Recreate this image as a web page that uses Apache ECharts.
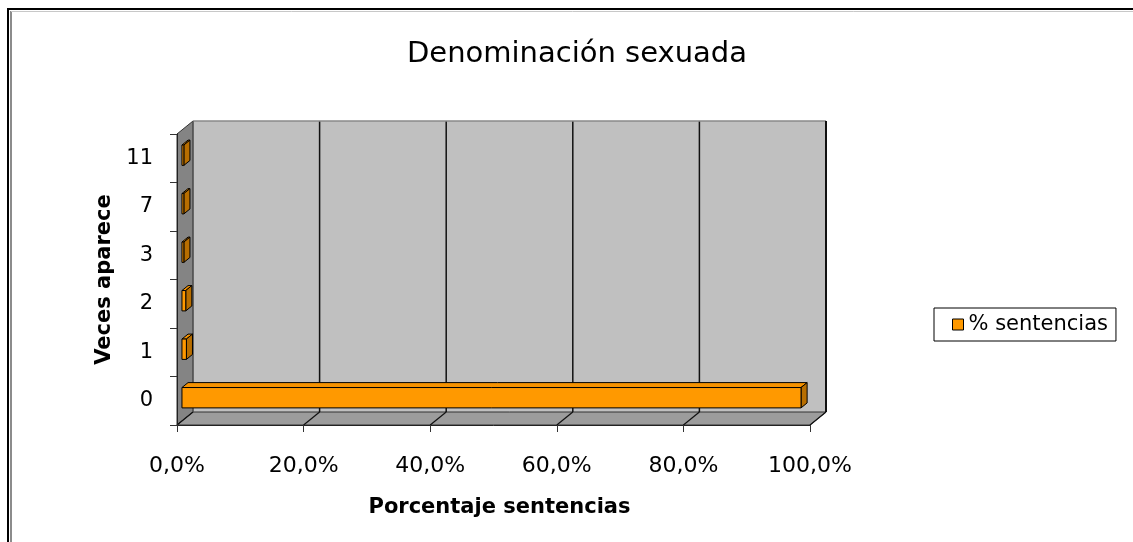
<!DOCTYPE html>
<html>
<head>
<meta charset="utf-8">
<script src="https://cdn.jsdelivr.net/npm/echarts@6/dist/echarts.min.js"></script>
<style>
html,body{margin:0;padding:0;background:#fff;}
#c{width:1133px;height:542px;}
</style>
</head>
<body>
<div id="c"></div>
<script>
// ---- data ----
const categories = ['0', '1', '2', '3', '7', '11'];
const percentValues = [97.8, 0.7, 0.6, 0.3, 0.3, 0.3];
const xTickValues = [0, 20, 40, 60, 80, 100];
const xTickLabels = ['0,0%', '20,0%', '40,0%', '60,0%', '80,0%', '100,0%'];
const seriesName = '% sentencias';
const titleText = 'Denominación sexuada';
const xAxisName = 'Porcentaje sentencias';
const yAxisName = 'Veces aparece';

// ---- 3D look constants (style) ----
const DX = 16, DY = -13;
const F1 = 0.31, F2 = 0.69;
const FONT = 'DejaVu Sans';

const chart = echarts.init(document.getElementById('c'), null, {renderer: 'canvas'});

function wallsRender(params, api) {
  const cs = params.coordSys;
  const L = cs.x, T = cs.y, R = cs.x + cs.width, B = cs.y + cs.height;
  const children = [];
  children.push({type: 'polygon', shape: {points: [[L + DX, T + DY], [R + DX, T + DY], [R + DX, B + DY], [L + DX, B + DY]]},
    style: {fill: '#c0c0c0', stroke: null}});
  children.push({type: 'polygon', shape: {points: [[L, T], [L + DX, T + DY], [L + DX, B + DY], [L, B]]},
    style: {fill: '#848484', stroke: '#333', lineWidth: 1}});
  children.push({type: 'polygon', shape: {points: [[L, B], [R, B], [R + DX, B + DY], [L + DX, B + DY]]},
    style: {fill: '#9c9c9c', stroke: '#333', lineWidth: 1}});
  xTickValues.forEach(function (v) {
    const x = api.coord([v, 0])[0];
    if (v > xTickValues[0] && v < xTickValues[xTickValues.length - 1]) {
      children.push({type: 'line', shape: {x1: x + DX, y1: T + DY, x2: x + DX, y2: B + DY},
        style: {stroke: '#111', lineWidth: 1.5}});
    }
    children.push({type: 'line', shape: {x1: x, y1: B, x2: x + DX, y2: B + DY},
      style: {stroke: '#111', lineWidth: 1.2}});
  });
  children.push({type: 'line', shape: {x1: L + DX, y1: T + DY, x2: R + DX, y2: T + DY}, style: {stroke: '#8a8a8a', lineWidth: 1.5}});
  children.push({type: 'line', shape: {x1: R + DX, y1: T + DY, x2: R + DX, y2: B + DY}, style: {stroke: '#111', lineWidth: 2}});
  children.push({type: 'line', shape: {x1: L + DX, y1: T + DY, x2: L + DX, y2: B + DY}, style: {stroke: '#555', lineWidth: 1}});
  return {type: 'group', children: children};
}

function barRender(params, api) {
  const v = api.value(0), c = api.value(1);
  const p0 = api.coord([0, c]);
  const p1 = api.coord([v, c]);
  const band = api.size([0, 1])[1];
  const h = band * 0.42;
  const ox1 = DX * F1, oy1 = DY * F1, ox2 = DX * F2, oy2 = DY * F2;
  const ddx = ox2 - ox1, ddy = oy2 - oy1;
  const xL = p0[0] + ox1, xR = p1[0] + ox1;
  const yT = p0[1] + oy1 - h / 2 + 1, yB = yT + h;
  const st = {stroke: '#000', lineWidth: 1};
  return {type: 'group', children: [
    {type: 'polygon', shape: {points: [[xL, yT], [xR, yT], [xR + ddx, yT + ddy], [xL + ddx, yT + ddy]]},
      style: Object.assign({fill: '#f59200'}, st)},
    {type: 'polygon', shape: {points: [[xR, yT], [xR + ddx, yT + ddy], [xR + ddx, yB + ddy], [xR, yB]]},
      style: Object.assign({fill: '#b86e00'}, st)},
    {type: 'rect', shape: {x: xL, y: yT, width: xR - xL, height: h},
      style: Object.assign({fill: '#ff9900'}, st)}
  ]};
}

const option = {
  animation: false,
  backgroundColor: '#fff',
  title: {
    text: titleText, left: 577, top: 40, padding: 0, textAlign: 'center',
    textStyle: {fontFamily: FONT, fontSize: 29, fontWeight: 'normal', color: '#000'}
  },
  legend: {
    data: [seriesName], orient: 'vertical', left: 934, top: 308,
    padding: [6, 8, 6, 18], borderColor: '#000', borderWidth: 1,
    icon: 'rect', itemWidth: 11, itemHeight: 11,
    itemStyle: {color: '#ff9900', borderColor: '#000', borderWidth: 1},
    textStyle: {fontFamily: FONT, fontSize: 21, color: '#000'}
  },
  grid: {left: 177, right: 323, top: 134, bottom: 117, containLabel: false},
  xAxis: {
    type: 'value', min: 0, max: 100, interval: 20,
    name: xAxisName, nameLocation: 'middle', nameGap: 72,
    nameTextStyle: {fontFamily: FONT, fontSize: 21, fontWeight: 'bold', color: '#000', padding: [0, 0, 0, 12]},
    axisLine: {show: true, lineStyle: {color: '#222', width: 1}},
    axisTick: {show: true, length: 7, lineStyle: {color: '#333'}},
    splitLine: {show: false},
    axisLabel: {
      margin: 30, fontFamily: FONT, fontSize: 22, color: '#000',
      formatter: function (v) { const i = xTickValues.indexOf(v); return i >= 0 ? xTickLabels[i] : ''; }
    }
  },
  yAxis: {
    type: 'category', data: categories,
    name: yAxisName, nameLocation: 'middle', nameGap: 60, nameRotate: 90,
    nameTextStyle: {fontFamily: FONT, fontSize: 21, fontWeight: 'bold', color: '#000'},
    axisLine: {show: true, lineStyle: {color: '#222', width: 1}},
    axisTick: {show: true, length: 7, lineStyle: {color: '#333'}},
    splitLine: {show: false},
    axisLabel: {margin: 24, fontFamily: FONT, fontSize: 21, color: '#000', padding: [6, 0, 0, 0]}
  },
  graphic: [
    {type: 'rect', shape: {x: 8, y: 9, width: 1150, height: 560}, style: {fill: null, stroke: '#000', lineWidth: 2}, silent: true, z: 100},
    {type: 'line', shape: {x1: 11, y1: 11, x2: 11, y2: 560}, style: {stroke: '#666', lineWidth: 1.5}, silent: true, z: 100},
    {type: 'line', shape: {x1: 11, y1: 11.5, x2: 1140, y2: 11.5}, style: {stroke: '#c8c8c8', lineWidth: 1}, silent: true, z: 100}
  ],
  series: [
    {
      type: 'custom', name: '__walls', z: -1, silent: true,
      renderItem: wallsRender, data: [[0, 0]], encode: {x: 0, y: 1}
    },
    {
      type: 'custom', name: seriesName, z: 3,
      itemStyle: {color: '#ff9900', borderColor: '#000', borderWidth: 1},
      renderItem: barRender,
      data: percentValues.map(function (v, i) { return [v, i]; }),
      encode: {x: 0, y: 1}
    }
  ]
};
chart.setOption(option);
</script>
</body>
</html>
